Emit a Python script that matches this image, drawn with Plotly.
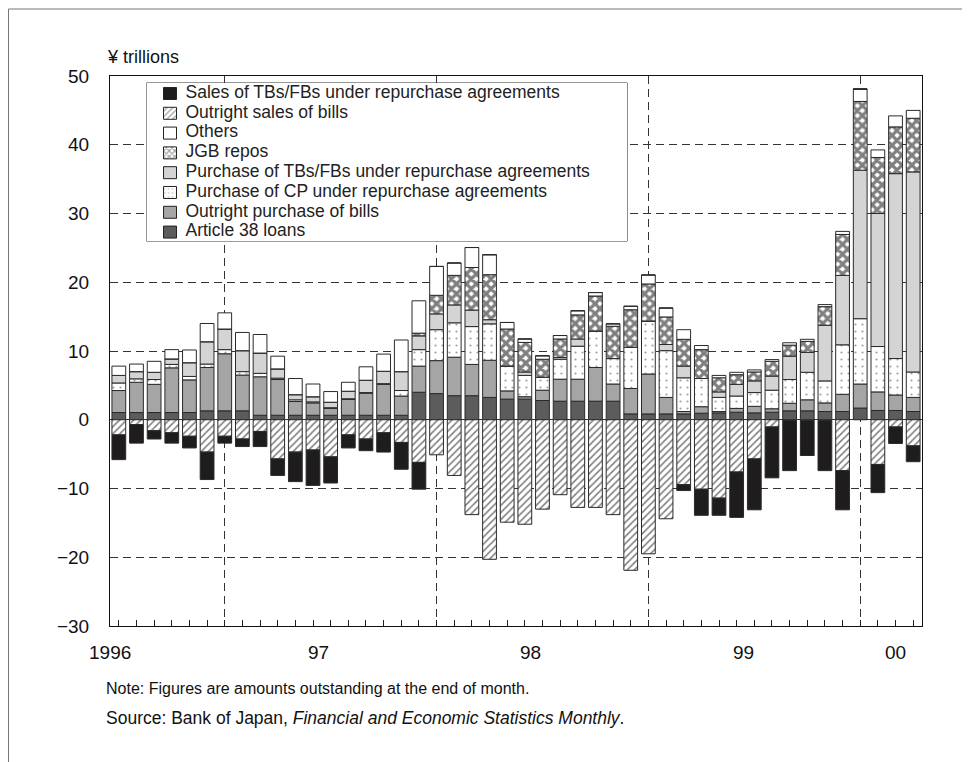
import plotly.graph_objects as go

# month-end observations, Jun 1996 - Mar 2000
months = [f"{y}-{m:02d}" for y in range(1996, 2001) for m in range(1, 13)][5:51]

# ¥ trillions, positive side (operations supplying funds)
article38 = [1.05, 1.05, 1.05, 1.05, 1.05, 1.3, 1.3, 1.3, 0.65, 0.65, 0.65, 0.65, 0.65, 0.65, 0.65, 0.65,
             0.65, 4.0, 3.8, 3.5, 3.5, 3.25, 3.0, 3.0, 2.8, 2.7, 2.7, 2.7, 2.7, 0.85, 0.85, 0.85,
             0.85, 0.95, 1.0, 1.1, 1.0, 1.1, 1.3, 1.3, 1.2, 1.2, 1.7, 1.35, 1.35, 1.2]
outright_purchase = [3.2, 4.4, 4.1, 6.5, 4.75, 6.3, 8.3, 5.2, 5.6, 5.2, 2.0, 1.8, 1.0, 2.3, 3.2, 4.5,
                     2.8, 3.8, 4.8, 5.6, 4.55, 5.4, 1.2, 0.35, 1.5, 3.2, 3.2, 4.9, 2.5, 3.7, 5.8, 2.4,
                     0.35, 0.95, 0.2, 0.55, 0.95, 0.5, 1.1, 1.6, 1.25, 2.5, 3.5, 2.7, 2.25, 2.05]
cp_repo = [1.1, 0.5, 0.7, 0.5, 0.5, 0.5, 0.6, 0.5, 0.5, 0.2, 0.25, 0.15, 0.1, 0.1, 0.1, 0.1,
           0.8, 2.4, 4.5, 5.0, 5.5, 5.3, 3.6, 3.1, 1.9, 2.9, 4.8, 5.3, 3.7, 6.0, 7.7, 6.8,
           4.9, 4.1, 2.05, 1.8, 2.0, 2.7, 3.45, 4.0, 3.2, 7.2, 9.5, 6.6, 5.3, 3.7]
tb_purchase = [1.1, 1.05, 1.05, 0.8, 2.0, 3.25, 3.0, 3.05, 2.95, 1.35, 0.75, 0.75, 0.8, 1.1, 1.8, 1.8,
               2.75, 2.0, 2.3, 2.6, 2.4, 0.6, 0.0, 0.5, 0.0, 0.25, 1.05, 0.0, 0.0, 0.0, 0.0, 0.9,
               1.7, 0.0, 0.8, 1.7, 1.7, 2.05, 3.4, 2.9, 8.1, 10.1, 21.6, 19.35, 26.9, 29.1]
jgb_repo = [0, 0, 0, 0, 0, 0, 0, 0, 0, 0, 0, 0, 0, 0, 0, 0,
            0, 0.4, 2.7, 4.3, 6.2, 6.55, 5.4, 4.3, 2.6, 2.7, 3.5, 5.1, 4.7, 5.45, 5.4, 4.0,
            3.9, 4.2, 2.05, 1.4, 1.3, 2.15, 1.6, 1.6, 2.7, 5.95, 10.0, 8.15, 6.8, 7.8]
others = [1.35, 1.1, 1.6, 1.35, 1.85, 2.65, 2.35, 2.65, 2.7, 1.85, 2.35, 1.85, 1.55, 1.3, 1.95, 2.5,
          4.6, 4.7, 4.2, 1.8, 2.9, 2.9, 0.95, 0.5, 0.5, 0.5, 0.6, 0.5, 0.35, 0.5, 1.3, 1.3,
          1.4, 0.6, 0.35, 0.35, 0.3, 0.25, 0.35, 0.3, 0.3, 0.45, 1.8, 1.1, 1.6, 1.15]

# negative side (operations absorbing funds)
outright_sales = [-2.2, -0.7, -1.6, -1.9, -2.4, -4.7, -2.4, -2.8, -1.7, -5.7, -4.7, -4.4, -5.4, -2.2, -2.8, -1.9,
                  -3.3, -6.2, -5.1, -8.1, -13.8, -20.3, -14.9, -15.2, -13.0, -10.9, -12.75, -12.75, -13.8, -21.9, -19.5, -14.4,
                  -9.45, -10.1, -11.4, -7.6, -5.7, -1.05, -0.1, -0.1, -0.1, -7.4, 0.0, -6.5, -1.05, -3.8]
tb_sales = [-3.6, -2.7, -1.2, -1.5, -1.7, -4.0, -1.0, -1.1, -2.2, -2.4, -4.3, -5.15, -3.8, -1.9, -1.7, -2.8,
            -3.9, -3.9, 0, 0, 0, 0, 0, 0, 0, 0, 0, 0, 0, 0, 0, 0,
            -0.85, -3.8, -2.5, -6.6, -7.4, -7.4, -7.3, -5.1, -7.3, -5.7, 0.0, -4.1, -2.4, -2.3]

year_labels = ["1996", "97", "98", "99", "00"]
year_label_pos = [-0.5, 11.3, 23.3, 35.4, 44.0]
note_text = "Note: Figures are amounts outstanding at the end of month."
source_text = "Source: Bank of Japan, <i>Financial and Economic Statistics Monthly</i>."

FONT = "Liberation Sans, Arial, Helvetica, sans-serif"
x = list(range(len(months)))
edge = dict(color="#2a2a2a", width=1)

series = [
    ("Article 38 loans", article38, dict(color="#5c5c5c", line=edge)),
    ("Outright purchase of bills", outright_purchase, dict(color="#a5a5a5", line=edge)),
    ("Purchase of CP under repurchase agreements", cp_repo,
     dict(color="white", line=edge,
          pattern=dict(shape=".", fgcolor="#444", bgcolor="white", size=7, solidity=0.08, fillmode="overlay"))),
    ("Purchase of TBs/FBs under repurchase agreements", tb_purchase, dict(color="#d4d4d4", line=edge)),
    ("JGB repos", jgb_repo,
     dict(color="white", line=edge,
          pattern=dict(shape="x", fgcolor="#000", bgcolor="white", size=7, solidity=0.7, fillmode="overlay"))),
    ("Others", others, dict(color="white", line=edge)),
    ("Outright sales of bills", outright_sales,
     dict(color="white", line=edge,
          pattern=dict(shape="/", fgcolor="#000", bgcolor="white", size=5, solidity=0.32, fillmode="overlay"))),
    ("Sales of TBs/FBs under repurchase agreements", tb_sales, dict(color="#1f1c1d", line=edge)),
]

fig = go.Figure()
for name, vals, marker in series:
    fig.add_trace(go.Bar(x=x, y=vals, name=name, marker=marker, width=0.78,
                         customdata=months, hovertemplate="%{customdata}: %{y}<extra>" + name + "</extra>",
                         showlegend=False))

# hand-made legend (plotly's own legend rows are too tall for this font size)
leg = list(reversed(series))
rows = [10.5 + 19.8 * i for i in range(len(leg))]
sw_color, sw_shape, sw_fg, sw_size, sw_sol = [], [], [], [], []
for name, vals, m in leg:
    p = m.get("pattern")
    sw_color.append(m["color"])
    sw_shape.append(p["shape"] if p else "")
    sw_fg.append(p["fgcolor"] if p else "black")
    sw_size.append(4 if p else 8)
    sw_sol.append(min(p["solidity"], 0.5) if p else 0.3)

fig.add_trace(go.Bar(orientation="h", y=rows, x=[13] * len(rows), base=[17] * len(rows), width=[12] * len(rows),
                     xaxis="x2", yaxis="y2", showlegend=False, hoverinfo="skip",
                     marker=dict(color=sw_color, line=dict(color="#222", width=1),
                                 pattern=dict(shape=sw_shape, fgcolor=sw_fg, bgcolor="white",
                                              size=sw_size, solidity=sw_sol, fillmode="overlay"))))
fig.add_trace(go.Scatter(x=[39] * len(rows), y=rows, text=[s[0] for s in leg], mode="text",
                         textposition="middle right", textfont=dict(size=17.5, color="#222"),
                         xaxis="x2", yaxis="y2", showlegend=False, hoverinfo="skip"))

annotations = []
for lab, pos in zip(year_labels, year_label_pos):
    annotations.append(dict(x=pos, y=-0.049, xref="x", yref="paper", text=lab, showarrow=False,
                            xanchor="center", yanchor="middle", font=dict(size=19, color="#111")))

annotations.append(dict(x=-0.006, y=1.035, xref="paper", yref="paper", text="¥ trillions", showarrow=False,
                        xanchor="left", yanchor="middle", font=dict(size=18, color="#111")))
annotations.append(dict(x=-0.008, y=-0.1145, xref="paper", yref="paper", text=note_text, showarrow=False,
                        xanchor="left", yanchor="middle", font=dict(size=16, color="#111")))
annotations.append(dict(x=-0.008, y=-0.167, xref="paper", yref="paper", text=source_text, showarrow=False,
                        xanchor="left", yanchor="middle", font=dict(size=17.5, color="#111")))

leg_bottom = 0.9873 - 158 / 550

# the page is shown with an 8px body margin, so margins are trimmed by 8px
fig.update_layout(
    width=970, height=762,
    margin=dict(l=102, r=56, t=68, b=144),
    paper_bgcolor="white", plot_bgcolor="white",
    font=dict(family=FONT, size=18, color="#111"),
    barmode="relative",
    showlegend=False,
    annotations=annotations,
    shapes=[
        # legend frame
        dict(type="rect", xref="paper", yref="paper", x0=0.045, x1=0.637, y0=leg_bottom, y1=0.9873,
             line=dict(color="#333", width=1), fillcolor="white", layer="between"),
        # outer page frame
        dict(type="rect", xref="paper", yref="paper", x0=-0.1250, x1=1.2, y0=-0.4, y1=1.1218,
             line=dict(color="#777", width=1), fillcolor="rgba(0,0,0,0)", layer="below"),
    ],
    xaxis=dict(range=[-0.5, len(months) - 0.5], tickmode="array", tickvals=[6, 18, 30, 42],
               showticklabels=False, ticks="inside", ticklen=6, tickcolor="#222",
               showgrid=True, gridcolor="#333", gridwidth=1, griddash="8px,5px",
               minor=dict(tickmode="array", tickvals=x, ticks="inside", ticklen=6, tickcolor="#222"),
               showline=True, mirror=True, linecolor="#111", linewidth=1, zeroline=False),
    yaxis=dict(range=[-30, 50], tickmode="linear", tick0=0, dtick=10,
               ticks="", ticklabelstandoff=16, tickfont=dict(size=19, color="#111"),
               showgrid=True, gridcolor="#333", gridwidth=1, griddash="8px,5px",
               zeroline=True, zerolinecolor="#333", zerolinewidth=1,
               showline=True, mirror=True, linecolor="#111", linewidth=1),
    xaxis2=dict(domain=[0.045, 0.637], range=[0, 481], visible=False, anchor="y2", fixedrange=True),
    yaxis2=dict(domain=[leg_bottom, 0.9873], range=[158, 0], visible=False, anchor="x2", fixedrange=True),
)

fig.write_html("out.html")
